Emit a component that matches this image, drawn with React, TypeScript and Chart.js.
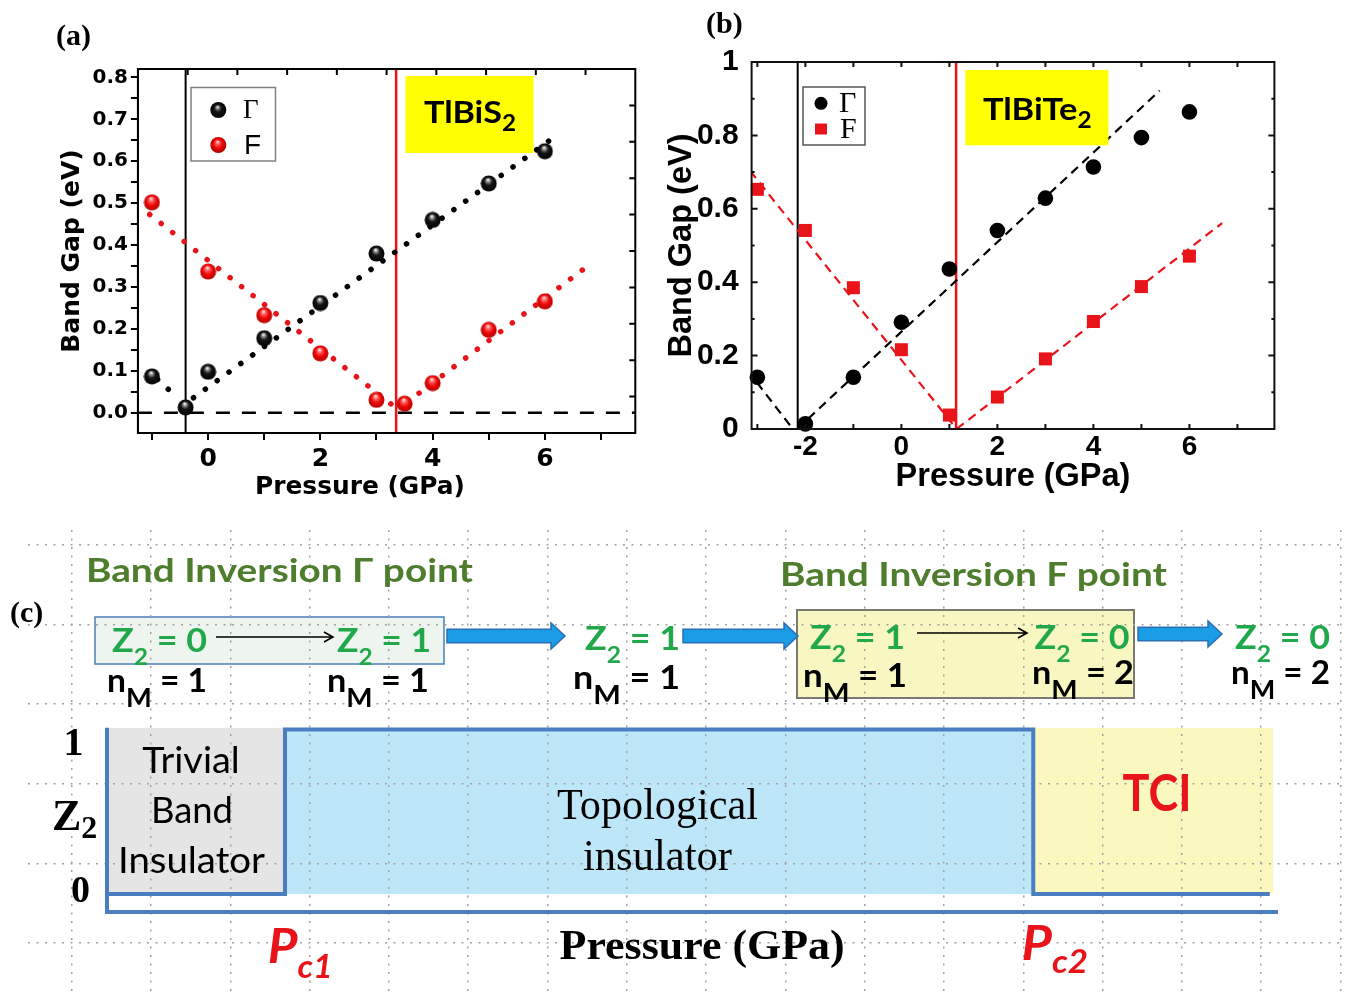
import React, { useEffect, useRef } from "react";
import { Chart, registerables } from "chart.js";

Chart.register(...registerables);

// ---------------- Panel (a): TlBiS2 ----------------
const A_P_GAMMA = [-1, -0.4, 0, 1, 2, 3, 4, 5, 6];
const A_GAP_GAMMA = [0.087, 0.013, 0.098, 0.178, 0.262, 0.38, 0.46, 0.547, 0.624];
const A_P_F = [-1, 0, 1, 2, 3, 3.5, 4, 5, 6];
const A_GAP_F = [0.502, 0.337, 0.233, 0.142, 0.031, 0.022, 0.071, 0.198, 0.266];
const A_FIT_GAMMA_1_P = [-0.9, -0.58];
const A_FIT_GAMMA_1 = [0.08, 0.04];
const A_FIT_GAMMA_2_P = [-0.26, 6.17];
const A_FIT_GAMMA_2 = [0.036, 0.658];
const A_FIT_F_1_P = [-1.04, 3.29];
const A_FIT_F_1 = [0.473, 0.018];
const A_FIT_F_2_P = [3.55, 6.74];
const A_FIT_F_2 = [0.026, 0.348];
const A_CRITICAL_P = [-0.4, 3.35];
const A_X_RANGE = [-1.25, 7.61];
const A_Y_RANGE = [-0.048, 0.82];

// ---------------- Panel (b): TlBiTe2 ----------------
const B_P = [-3, -2, -1, 0, 1, 2, 3, 4, 5, 6];
const B_GAP_GAMMA = [0.141, 0.014, 0.141, 0.291, 0.436, 0.541, 0.629, 0.714, 0.794, 0.864];
const B_GAP_F = [0.653, 0.541, 0.385, 0.216, 0.038, 0.087, 0.191, 0.293, 0.388, 0.471];
const B_FIT_GAMMA_1_P = [-3.2, -2.26];
const B_FIT_GAMMA_1 = [0.159, 0];
const B_FIT_GAMMA_2_P = [-2.17, 5.38];
const B_FIT_GAMMA_2 = [0, 0.922];
const B_FIT_F_1_P = [-3.15, 1.15];
const B_FIT_F_1 = [0.703, 0];
const B_FIT_F_2_P = [1.15, 6.68];
const B_FIT_F_2 = [0, 0.561];
const B_CRITICAL_P = [-2.16, 1.14];
const B_X_RANGE = [-3.12, 7.77];
const B_Y_RANGE = [0, 1];

// ---------------- Panel (c): schematic phase diagram ----------------
const C_PHASES = ["Trivial Band Insulator", "Topological insulator", "TCI"];
const C_PHASE_START = [0, 1.52, 7.91];
const C_PHASE_Z2 = [0, 1, 0];
const C_P_END = 9.93;
const C_P_AXIS_END = 10.0;
const C_PHASE_COLORS = ["#e5e5e5", "#bde7f8", "#fbf8bf"];
const C_STATE_Z2 = [0, 1, 1, 1, 0, 0];
const C_STATE_NM = [1, 1, 1, 1, 2, 2];

const BLUE_LINE = "#4a7ec0";
const RED = "#e8141a";
const GREEN_TITLE = "#4e7d2d";
const GREEN_Z = "#21a84a";

const pts = (xs: number[], ys: number[]) => xs.map((x, i) => ({ x, y: ys[i] }));
const vline = (x: number, r: number[]) => [{ x, y: r[0] }, { x, y: r[1] }];

function makeSphere(size: number, stops: [number, string][]) {
  const c = document.createElement("canvas");
  c.width = size;
  c.height = size;
  const g = c.getContext("2d")!;
  const r = size / 2;
  const grad = g.createRadialGradient(r * 0.9, r * 0.55, r * 0.05, r, r, r);
  stops.forEach(([o, col]) => grad.addColorStop(o, col));
  g.fillStyle = grad;
  g.beginPath();
  g.arc(r, r, r - 0.5, 0, Math.PI * 2);
  g.fill();
  return c;
}

const frameA = {
  id: "frameA",
  afterDraw(chart: any) {
    const { ctx, chartArea: ca, scales } = chart;
    ctx.save();
    ctx.strokeStyle = "#000";
    ctx.lineWidth = 2;
    ctx.beginPath();
    ctx.rect(ca.left, ca.top, ca.right - ca.left, ca.bottom - ca.top);
    ctx.stroke();
    ctx.beginPath();
    for (let v = 1; v < 10; v++) {
      const px = scales.x2.getPixelForValue(v);
      ctx.moveTo(px, ca.top);
      ctx.lineTo(px, ca.top + 6);
      const py = scales.y2.getPixelForValue(v);
      ctx.moveTo(ca.right, py);
      ctx.lineTo(ca.right - 6, py);
    }
    ctx.stroke();
    ctx.restore();
  },
};

const frameB = {
  id: "frameB",
  afterDraw(chart: any) {
    const { ctx, chartArea: ca, scales } = chart;
    const xs = scales.x, ys = scales.y;
    ctx.save();
    ctx.strokeStyle = "#111";
    ctx.lineWidth = 2;
    ctx.beginPath();
    ctx.rect(ca.left, ca.top, ca.right - ca.left, ca.bottom - ca.top);
    ctx.stroke();
    ctx.beginPath();
    for (let v = Math.ceil(xs.min); v <= Math.floor(xs.max); v++) {
      const px = xs.getPixelForValue(v);
      ctx.moveTo(px, ca.bottom);
      ctx.lineTo(px, ca.bottom - 5);
      ctx.moveTo(px, ca.top);
      ctx.lineTo(px, ca.top + 5);
    }
    for (let k = 1; k < 10; k++) {
      const py = ys.getPixelForValue(k / 10);
      const len = k % 2 === 0 ? 6 : 3;
      ctx.moveTo(ca.left, py);
      ctx.lineTo(ca.left + len, py);
      ctx.moveTo(ca.right, py);
      ctx.lineTo(ca.right - len, py);
    }
    ctx.stroke();
    ctx.restore();
  },
};

const phasePlugin = {
  id: "phases",
  beforeDraw(chart: any) {
    const { ctx } = chart;
    const px = chart.scales.px, py = chart.scales.py;
    ctx.save();
    C_PHASE_START.forEach((s, i) => {
      const e = i < C_PHASE_START.length - 1 ? C_PHASE_START[i + 1] : C_P_END + 0.03;
      const x0 = px.getPixelForValue(s);
      const x1 = px.getPixelForValue(e);
      const y0 = py.getPixelForValue(1.01);
      const y1 = py.getPixelForValue(0);
      ctx.fillStyle = C_PHASE_COLORS[i];
      ctx.fillRect(x0, y0, x1 - x0, y1 - y0);
    });
    ctx.restore();
  },
  afterDatasetsDraw(chart: any) {
    const { ctx } = chart;
    const px = chart.scales.px, py = chart.scales.py;
    ctx.save();
    ctx.strokeStyle = BLUE_LINE;
    ctx.lineWidth = 4;
    ctx.lineJoin = "miter";
    ctx.beginPath();
    ctx.moveTo(px.getPixelForValue(0), py.getPixelForValue(1.01));
    ctx.lineTo(px.getPixelForValue(0), py.getPixelForValue(-0.11));
    ctx.lineTo(px.getPixelForValue(C_P_AXIS_END), py.getPixelForValue(-0.11));
    ctx.stroke();
    ctx.restore();
  },
};

function configA(): any {
  const sphereK = makeSphere(17, [[0, "#f4f4f4"], [0.22, "#777"], [0.45, "#151515"], [1, "#000"]]);
  const sphereR = makeSphere(17, [[0, "#ffe2e2"], [0.25, "#ff5a5a"], [0.55, "#ee0808"], [1, "#b00000"]]);
  const tickFont = { family: "DejaVu Sans", weight: "bold", size: 20 };
  const dotted = (color: string) => ({
    showLine: true, pointRadius: 0, borderColor: color, borderWidth: 5.5,
    borderDash: [0.1, 14.5], borderCapStyle: "round", order: 2,
  });
  return {
    type: "line",
    data: {
      datasets: [
        { label: "Γ", data: pts(A_P_GAMMA, A_GAP_GAMMA), showLine: false, pointStyle: sphereK, pointRadius: 8, clip: false, order: 0 },
        { label: "F", data: pts(A_P_F, A_GAP_F), showLine: false, pointStyle: sphereR, pointRadius: 8, clip: false, order: 0 },
        { label: "fitG1", data: pts(A_FIT_GAMMA_1_P, A_FIT_GAMMA_1), ...dotted("#000") },
        { label: "fitG2", data: pts(A_FIT_GAMMA_2_P, A_FIT_GAMMA_2), ...dotted("#000") },
        { label: "fitF1", data: pts(A_FIT_F_1_P, A_FIT_F_1), ...dotted(RED) },
        { label: "fitF2", data: pts(A_FIT_F_2_P, A_FIT_F_2), ...dotted(RED) },
        { label: "Pc1", data: vline(A_CRITICAL_P[0], A_Y_RANGE), showLine: true, pointRadius: 0, borderColor: "#000", borderWidth: 2, order: 3 },
        { label: "Pc2", data: vline(A_CRITICAL_P[1], A_Y_RANGE), showLine: true, pointRadius: 0, borderColor: RED, borderWidth: 2.5, order: 3 },
        { label: "zero", data: [{ x: A_X_RANGE[0], y: 0 }, { x: A_X_RANGE[1], y: 0 }], showLine: true, pointRadius: 0, borderColor: "#000", borderWidth: 2.5, borderDash: [14, 12], order: 3 },
      ],
    },
    options: {
      animation: false, responsive: false, maintainAspectRatio: false,
      layout: { padding: { top: 69, right: 24.7, left: 0, bottom: 0 } },
      plugins: { legend: { display: false }, tooltip: { enabled: false } },
      scales: {
        x: {
          type: "linear", min: A_X_RANGE[0], max: A_X_RANGE[1],
          afterFit: (s: any) => { s.height = 77; },
          ticks: {
            stepSize: 1, includeBounds: false, autoSkip: false, maxRotation: 0,
            callback: (v: number) => (Math.abs(v % 2) < 1e-9 ? String(v) : ""),
            font: { family: "DejaVu Sans", weight: "bold", size: 25 }, color: "#000", padding: 4,
          },
          grid: { drawOnChartArea: false, drawTicks: true, tickLength: 7, lineWidth: 2, color: "#000" },
          border: { display: true, color: "#000", width: 2 },
        },
        y: {
          type: "linear", min: A_Y_RANGE[0], max: A_Y_RANGE[1],
          afterFit: (s: any) => { s.width = 137.9; },
          ticks: {
            stepSize: 0.05, includeBounds: false, autoSkip: false,
            callback: (v: number) => (Math.abs(v * 10 - Math.round(v * 10)) < 1e-6 ? v.toFixed(1) : ""),
            font: tickFont, color: "#000", padding: 3,
          },
          grid: { drawOnChartArea: false, drawTicks: true, tickLength: 7, lineWidth: 2, color: "#000" },
          border: { display: true, color: "#000", width: 2 },
          title: { display: true, text: "Band Gap (eV)", color: "#000", font: { family: "DejaVu Sans", weight: "bold", size: 25 }, padding: { top: 57.6, bottom: 0 } },
        },
        x2: { type: "linear", axis: "x", position: "top", display: false, min: 0, max: 10 },
        y2: { type: "linear", axis: "y", position: "right", display: false, min: 0, max: 10 },
      },
    },
    plugins: [frameA],
  };
}

function configB(): any {
  const dashed = (color: string) => ({
    showLine: true, pointRadius: 0, borderColor: color, borderWidth: 2.2, borderDash: [9, 6], order: 2,
  });
  return {
    type: "line",
    data: {
      datasets: [
        { label: "Γ", data: pts(B_P, B_GAP_GAMMA), showLine: false, pointStyle: "circle", pointRadius: 7.8, backgroundColor: "#000", borderColor: "#000", borderWidth: 0, clip: false, order: 0 },
        { label: "F", data: pts(B_P, B_GAP_F), showLine: false, pointStyle: "rect", pointRadius: 9.2, backgroundColor: RED, borderColor: RED, borderWidth: 0, clip: false, order: 0 },
        { label: "fitG1", data: pts(B_FIT_GAMMA_1_P, B_FIT_GAMMA_1), ...dashed("#000") },
        { label: "fitG2", data: pts(B_FIT_GAMMA_2_P, B_FIT_GAMMA_2), ...dashed("#000") },
        { label: "fitF1", data: pts(B_FIT_F_1_P, B_FIT_F_1), ...dashed(RED) },
        { label: "fitF2", data: pts(B_FIT_F_2_P, B_FIT_F_2), ...dashed(RED) },
        { label: "Pc1", data: vline(B_CRITICAL_P[0], B_Y_RANGE), showLine: true, pointRadius: 0, borderColor: "#000", borderWidth: 2, order: 3 },
        { label: "Pc2", data: vline(B_CRITICAL_P[1], B_Y_RANGE), showLine: true, pointRadius: 0, borderColor: RED, borderWidth: 2.5, order: 3 },
      ],
    },
    options: {
      animation: false, responsive: false, maintainAspectRatio: false,
      layout: { padding: { top: 62, right: 79.6, left: 0, bottom: 0 } },
      plugins: { legend: { display: false }, tooltip: { enabled: false } },
      scales: {
        x: {
          type: "linear", min: B_X_RANGE[0], max: B_X_RANGE[1],
          afterFit: (s: any) => { s.height = 81; },
          ticks: {
            stepSize: 1, includeBounds: false, autoSkip: false, maxRotation: 0,
            callback: (v: number) => (Math.abs(v % 2) < 1e-9 ? String(v) : ""),
            font: { family: "Liberation Sans", weight: "bold", size: 28 }, color: "#000", padding: -7,
          },
          grid: { display: false },
          border: { display: false },
          title: { display: true, text: "Pressure (GPa)", color: "#000", font: { family: "Liberation Sans", weight: "bold", size: 32.5 }, padding: { top: 0, bottom: 13 } },
        },
        y: {
          type: "linear", min: B_Y_RANGE[0], max: B_Y_RANGE[1],
          afterFit: (s: any) => { s.width = 91.6; },
          ticks: {
            stepSize: 0.2, autoSkip: false,
            callback: (v: number) => (v === 0 ? "0" : Math.abs(v - 1) < 1e-9 ? "1" : v.toFixed(1)),
            font: { family: "Liberation Sans", weight: "bold", size: 30 }, color: "#000", padding: 5,
          },
          grid: { display: false },
          border: { display: false },
          title: { display: true, text: "Band Gap (eV)", color: "#000", font: { family: "Liberation Sans", weight: "bold", size: 32.5 }, padding: { top: 3, bottom: 0 } },
        },
      },
    },
    plugins: [frameB],
  };
}

function configC(): any {
  const stepData = C_PHASE_START.map((p, i) => ({ x: p, y: C_PHASE_Z2[i] }));
  stepData.push({ x: C_P_END, y: C_PHASE_Z2[C_PHASE_Z2.length - 1] });
  const gridCommon = {
    type: "linear",
    ticks: { display: false, stepSize: 1, includeBounds: false, autoSkip: false },
    grid: { color: "#a2a2a2", lineWidth: 1.5, drawTicks: false },
    border: { display: false, dash: [2, 6.5] },
  };
  return {
    type: "line",
    data: {
      datasets: [
        {
          label: "Z2", data: stepData, stepped: "before", borderColor: BLUE_LINE, borderWidth: 4,
          pointRadius: 0, fill: false, xAxisID: "px", yAxisID: "py", borderJoinStyle: "miter", clip: false,
        },
      ],
    },
    options: {
      animation: false, responsive: false, maintainAspectRatio: false,
      layout: { padding: 0 },
      plugins: { legend: { display: false }, tooltip: { enabled: false } },
      scales: {
        gx: { ...gridCommon, axis: "x", position: "bottom", min: -0.551, max: 16.044 },
        gy: { ...gridCommon, axis: "y", position: "left", min: -0.641, max: 5.188 },
        px: { type: "linear", axis: "x", position: "bottom", display: false, min: -0.6746, max: 10.5636 },
        py: { type: "linear", axis: "y", position: "left", display: false, min: -0.6079, max: 2.2128 },
      },
    },
    plugins: [phasePlugin],
  };
}

type TP = {
  x: number; y: number; size: number; fam: string; weight?: number | string; italic?: boolean;
  fill?: string; anchor?: "start" | "middle" | "end"; len?: number; children: React.ReactNode;
};
function Txt({ x, y, size, fam, weight = 400, italic, fill = "#000", anchor = "start", len, children }: TP) {
  return (
    <text
      x={x} y={y} fontSize={size} fontFamily={fam} fontWeight={weight}
      fontStyle={italic ? "italic" : "normal"} fill={fill} textAnchor={anchor}
      textLength={len} lengthAdjust={len ? "spacingAndGlyphs" : undefined}
      style={{ whiteSpace: "pre" }}
    >
      {children}
    </text>
  );
}

const Z_POS = [[112, 652, 95], [337, 652, 94], [585, 650, 95], [810, 649, 95], [1034.5, 649, 95], [1235, 648.5, 95]];
const NM_POS = [[107, 692, 100], [327, 692, 102], [573, 688.5, 107], [803, 687, 104], [1032, 683.5, 102], [1231, 683.5, 99]];

function blueArrow(x0: number, x1: number, cy: number) {
  const sh = 13.5, hh = 26, hl = 14;
  const xh = x1 - hl;
  return `${x0},${cy - sh / 2} ${xh},${cy - sh / 2} ${xh},${cy - hh / 2} ${x1},${cy} ${xh},${cy + hh / 2} ${xh},${cy + sh / 2} ${x0},${cy + sh / 2}`;
}

export default function App() {
  const refA = useRef<HTMLCanvasElement>(null);
  const refB = useRef<HTMLCanvasElement>(null);
  const refC = useRef<HTMLCanvasElement>(null);

  useEffect(() => {
    const charts: Chart[] = [];
    if (refA.current) charts.push(new Chart(refA.current, configA()));
    if (refB.current) charts.push(new Chart(refB.current, configB()));
    if (refC.current) charts.push(new Chart(refC.current, configC()));
    return () => charts.forEach((c) => c.destroy());
  }, []);

  const LATO = "Lato";
  const SERIF = "Liberation Serif";

  return (
    <div style={{ position: "absolute", left: 0, top: 0, width: 1354, height: 994, overflow: "hidden", background: "#fff" }}>
      <svg style={{ position: "absolute", left: 0, top: 0 }} width={1354} height={994}>
        <rect x={95} y={617} width={349} height={47} fill="#eef5ee" stroke="#4a7ebb" strokeWidth={1.5} />
        <rect x={797} y={610} width={337} height={88} fill="#f9f7c1" stroke="#7a7a72" strokeWidth={2} />
      </svg>
      <canvas ref={refA} width={660} height={510} style={{ position: "absolute", left: 0, top: 0, width: 660, height: 510 }} />
      <canvas ref={refB} width={694} height={510} style={{ position: "absolute", left: 660, top: 0, width: 694, height: 510 }} />
      <canvas ref={refC} width={1316} height={464} style={{ position: "absolute", left: 28, top: 530, width: 1316, height: 464 }} />
      <svg style={{ position: "absolute", left: 0, top: 0 }} width={1354} height={994}>
        <defs>
          <radialGradient id="gK" cx="0.5" cy="0.5" r="0.5" fx="0.45" fy="0.3">
            <stop offset="0" stopColor="#f4f4f4" />
            <stop offset="0.22" stopColor="#777" />
            <stop offset="0.45" stopColor="#151515" />
            <stop offset="1" stopColor="#000" />
          </radialGradient>
          <radialGradient id="gR" cx="0.5" cy="0.5" r="0.5" fx="0.45" fy="0.3">
            <stop offset="0" stopColor="#ffe2e2" />
            <stop offset="0.25" stopColor="#ff5a5a" />
            <stop offset="0.55" stopColor="#ee0808" />
            <stop offset="1" stopColor="#b00000" />
          </radialGradient>
        </defs>

        {/* Panel labels */}
        <Txt x={56} y={45} size={30} fam={SERIF} weight={700}>(a)</Txt>
        <Txt x={706} y={33} size={30} fam={SERIF} weight={700}>(b)</Txt>
        <Txt x={10} y={622} size={30} fam={SERIF} weight={700}>(c)</Txt>

        {/* Panel (a) extras */}
        <Txt x={255} y={494} size={25} fam="DejaVu Sans" weight={700} len={210}>Pressure (GPa)</Txt>
        <rect x={191} y={87.5} width={84.5} height={73.5} fill="#fff" stroke="#808080" strokeWidth={1.5} />
        <circle cx={218.3} cy={110} r={8} fill="url(#gK)" />
        <circle cx={218.3} cy={145} r={8} fill="url(#gR)" />
        <Txt x={243} y={118} size={27} fam={SERIF}>Γ</Txt>
        <Txt x={244} y={154} size={28} fam="Liberation Sans">F</Txt>
        <rect x={405.5} y={76} width={128} height={77} fill="#ffff00" />
        <Txt x={424} y={123} size={31} fam={LATO} weight={700} len={92}>
          TlBiS<tspan fontSize={22} dy={8}>2</tspan>
        </Txt>

        {/* Panel (b) extras */}
        <rect x={803} y={87} width={62} height={58} fill="#fff" stroke="#555" strokeWidth={1.5} />
        <circle cx={821} cy={103.3} r={6.5} fill="#000" />
        <rect x={815} y={123.5} width={12} height={11} fill={RED} />
        <Txt x={839} y={112} size={30} fam={SERIF}>Γ</Txt>
        <Txt x={840} y={138} size={30} fam={SERIF}>F</Txt>
        <rect x={965.4} y={70} width={143} height={75.3} fill="#ffff00" />
        <Txt x={983} y={120} size={31} fam={LATO} weight={700} len={108.6}>
          TlBiTe<tspan fontSize={22} dy={8}>2</tspan>
        </Txt>

        {/* Panel (c) top */}
        <Txt x={86} y={582} size={33} fam={LATO} weight={700} fill={GREEN_TITLE} len={387}>Band Inversion Γ point</Txt>
        <Txt x={780} y={586} size={33} fam={LATO} weight={700} fill={GREEN_TITLE} len={387}>Band Inversion F point</Txt>

        {C_STATE_Z2.map((z, i) => (
          <Txt key={"z" + i} x={Z_POS[i][0]} y={Z_POS[i][1]} size={32} fam={LATO} weight={700} fill={GREEN_Z} len={Z_POS[i][2]}>
            Z<tspan fontSize={22} dy={13}>2</tspan><tspan dy={-13}>{" = " + z}</tspan>
          </Txt>
        ))}
        {C_STATE_NM.map((n, i) => (
          <Txt key={"n" + i} x={NM_POS[i][0]} y={NM_POS[i][1]} size={32} fam={LATO} weight={700} fill="#000" len={NM_POS[i][2]}>
            n<tspan fontSize={26} dy={15}>M</tspan><tspan dy={-15}>{" = " + n}</tspan>
          </Txt>
        ))}

        {/* thin arrows */}
        <path d="M216 637 L333 637 M324 632 L333 637 L324 642" stroke="#000" strokeWidth={1.6} fill="none" />
        <path d="M917 633 L1027 633 M1018 628 L1027 633 L1018 638" stroke="#000" strokeWidth={1.6} fill="none" />
        {/* thick blue arrows */}
        <polygon points={blueArrow(447, 565, 636)} fill="#1a9de6" stroke="#2b6fb5" strokeWidth={1.5} />
        <polygon points={blueArrow(683, 798, 636)} fill="#1a9de6" stroke="#2b6fb5" strokeWidth={1.5} />
        <polygon points={blueArrow(1138, 1222, 634)} fill="#1a9de6" stroke="#2b6fb5" strokeWidth={1.5} />

        {/* Panel (c) step diagram labels */}
        <Txt x={73.5} y={755} size={40} fam={SERIF} weight={700} anchor="middle">1</Txt>
        <Txt x={52} y={830} size={44} fam={SERIF} weight={700}>
          Z<tspan fontSize={32} dy={8}>2</tspan>
        </Txt>
        <Txt x={80.5} y={901.5} size={38} fam={SERIF} weight={700} anchor="middle">0</Txt>

        <Txt x={191} y={773} size={37} fam={LATO} anchor="middle" len={97.5}>Trivial</Txt>
        <Txt x={192} y={823} size={37} fam={LATO} anchor="middle" len={82}>Band</Txt>
        <Txt x={191.5} y={873} size={37} fam={LATO} anchor="middle" len={147}>Insulator</Txt>
        <Txt x={657.5} y={819} size={44} fam={SERIF} anchor="middle" len={201}>Topological</Txt>
        <Txt x={657.5} y={870} size={44} fam={SERIF} anchor="middle" len={149}>insulator</Txt>
        <Txt x={1122.6} y={811} size={51} fam={LATO} weight={700} fill={RED} len={69}>TCI</Txt>

        <Txt x={559.6} y={959} size={42} fam={SERIF} weight={700} len={285}>Pressure (GPa)</Txt>
        <Txt x={267.7} y={963} size={48} fam={LATO} weight={700} italic fill={RED} len={65}>
          P<tspan fontSize={32} dy={15}>c1</tspan>
        </Txt>
        <Txt x={1021.6} y={960} size={48} fam={LATO} weight={700} italic fill={RED} len={66.5}>
          P<tspan fontSize={32} dy={13}>c2</tspan>
        </Txt>
        <title>{C_PHASES.join(", ")}</title>
      </svg>
    </div>
  );
}
